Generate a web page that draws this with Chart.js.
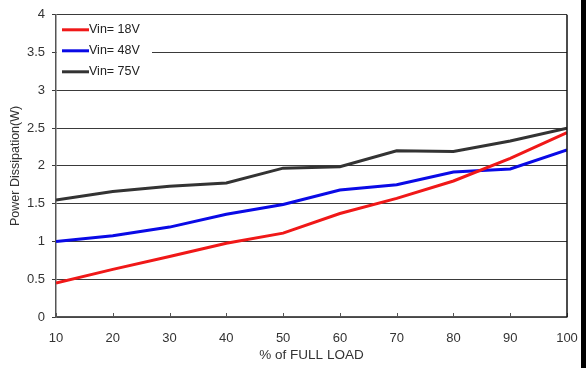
<!DOCTYPE html>
<html><head><meta charset="utf-8">
<script src="https://cdn.jsdelivr.net/npm/chart.js@4"></script>
<style>
html,body{margin:0;padding:0;background:#fff;}
#wrap{position:relative;width:586px;height:368px;}
#bar{position:absolute;left:581px;top:0;width:5px;height:368px;background:#000;}
</style></head>
<body>
<div id="wrap"><canvas id="c" width="586" height="368"></canvas><div id="bar"></div></div>
<script>
const loads = [10,20,30,40,50,60,70,80,90,100];
const seriesLabels = ['Vin= 18V','Vin= 48V','Vin= 75V'];
const vin18 = [0.45,0.63,0.80,0.975,1.11,1.37,1.57,1.80,2.10,2.44];
const vin48 = [1.00,1.075,1.19,1.36,1.49,1.68,1.75,1.92,1.96,2.21];
const vin75 = [1.55,1.66,1.73,1.775,1.97,1.99,2.20,2.19,2.33,2.50];
const yTicks = [0,0.5,1,1.5,2,2.5,3,3.5,4];
const colors = ['#f01818','#0a0ae6','#333333'];

const toPts = arr => arr.map((v,i)=>({x:loads[i], y:v}));
const FONT = '"Liberation Sans", Arial, sans-serif';

const legendPlugin = {
  id:'insideLegend',
  afterDatasetsDraw(chart){
    const ctx = chart.ctx, a = chart.chartArea;
    ctx.save();
    ctx.fillStyle = '#fff';
    ctx.fillRect(a.left+1, a.top+3, 95, 68);
    ctx.font = '12.5px ' + FONT;
    ctx.textBaseline = 'middle';
    chart.data.datasets.forEach((ds,i)=>{
      const y = a.top + 15 + i*21;
      ctx.strokeStyle = ds.borderColor; ctx.lineWidth = 3;
      ctx.beginPath(); ctx.moveTo(a.left+6, y); ctx.lineTo(a.left+33, y); ctx.stroke();
      ctx.fillStyle = '#222';
      ctx.fillText(ds.label, a.left+33, y);
    });
    ctx.restore();
  }
};
const framePlugin = {
  id:'frame',
  afterDraw(chart){
    const ctx = chart.ctx, xs = chart.scales.x, a = chart.chartArea;
    ctx.save(); ctx.strokeStyle = '#555'; ctx.lineWidth = 1;
    xs.ticks.forEach(t=>{
      const px = Math.round(xs.getPixelForValue(t.value))+0.5;
      ctx.beginPath(); ctx.moveTo(px, a.bottom); ctx.lineTo(px, a.bottom-4); ctx.stroke();
    });
    ctx.strokeStyle = '#111'; ctx.lineWidth = 1.5;
    ctx.beginPath(); ctx.moveTo(a.right, a.top); ctx.lineTo(a.right, a.bottom); ctx.stroke();
    ctx.restore();
  }
};

new Chart(document.getElementById('c'), {
  type:'line',
  data:{datasets:[
    {label:seriesLabels[0], data:toPts(vin18), borderColor:colors[0]},
    {label:seriesLabels[1], data:toPts(vin48), borderColor:colors[1]},
    {label:seriesLabels[2], data:toPts(vin75), borderColor:colors[2]}
  ].map(d=>Object.assign(d,{borderWidth:3, pointRadius:0, tension:0, fill:false}))},
  options:{
    responsive:false, animation:false,
    layout:{padding:{top:12, right:19, left:0, bottom:0}},
    plugins:{legend:{display:false}, tooltip:{enabled:false}},
    scales:{
      x:{type:'linear', min:10, max:100,
        afterBuildTicks(s){ s.ticks = loads.map(v=>({value:v})); },
        afterFit(s){ s.height = 51; },
        grid:{display:true, drawOnChartArea:false, drawTicks:true, tickLength:12, color:'rgba(0,0,0,0)', tickColor:'rgba(0,0,0,0)'},
        border:{color:'#555', width:1.5},
        ticks:{padding:2, color:'#333', font:{family:FONT, size:13}},
        title:{display:true, text:'% of FULL LOAD', color:'#333', padding:{top:0,bottom:5}, font:{family:FONT, size:13.5}}
      },
      y:{min:0, max:4,
        afterBuildTicks(s){ s.ticks = yTicks.map(v=>({value:v})); },
        afterFit(s){ s.width = 56; },
        grid:{drawTicks:true, tickLength:4, color:'#3a3a3a', lineWidth:1},
        border:{color:'#555', width:1.5},
        ticks:{padding:7, color:'#333', font:{family:FONT, size:13}, callback:v=>String(v)},
        title:{display:true, text:'Power Dissipation(W)', color:'#333', padding:{top:8,bottom:0}, font:{family:FONT, size:12.5}}
      }
    }
  },
  plugins:[legendPlugin, framePlugin]
});
</script>
</body></html>
